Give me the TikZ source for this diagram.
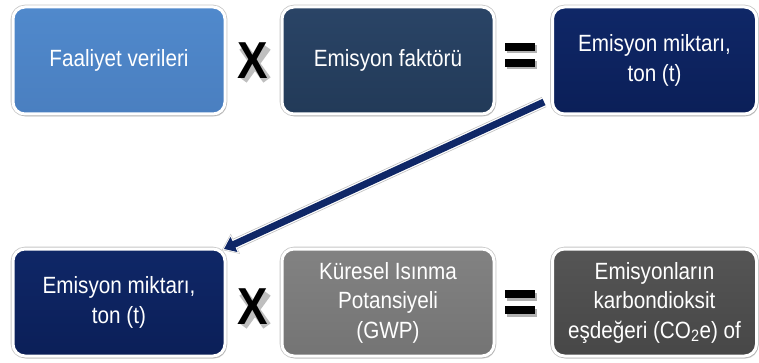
\documentclass[tikz,border=0pt]{standalone}
\usepackage{fontspec}
\setmainfont[FakeStretch=0.88]{Liberation Sans}
\usetikzlibrary{shadows,arrows.meta}
\definecolor{lightblue}{HTML}{5089CC}
\definecolor{lightblueB}{HTML}{4A7FC0}
\definecolor{slate}{HTML}{2A4466}
\definecolor{slateB}{HTML}{223A58}
\definecolor{navy}{HTML}{0F2767}
\definecolor{navyB}{HTML}{0B1F58}
\definecolor{midgray}{HTML}{828282}
\definecolor{midgrayB}{HTML}{747474}
\definecolor{darkgray}{HTML}{555555}
\definecolor{darkgrayB}{HTML}{474747}
\tikzset{
  box/.style={rounded corners=12pt, draw=white, line width=3pt,
    preaction={draw=black!22, line width=4.6pt},
    minimum width=212pt, minimum height=107pt, align=center,
    text=white, font=\fontsize{23.5}{29.5}\selectfont,
    drop shadow={opacity=0.3, shadow xshift=1.5pt, shadow yshift=-2.5pt}},
  opx/.style={font=\fontsize{52}{52}\selectfont\bfseries, inner sep=0pt},
  opshadow/.style={draw=black, opacity=0.25, line width=9pt},
  bar/.style={fill=black},
  barshadow/.style={fill=black, opacity=0.3},
}
\begin{document}
\begin{tikzpicture}[x=1pt,y=-1pt]
\useasboundingbox (0,0) rectangle (759,363);
% top row
\node[box, top color=lightblue, bottom color=lightblueB] (fa) at (119,60.5) {Faaliyet verileri};
\node[box, top color=slate, bottom color=slateB] (ef) at (388,60.5) {Emisyon faktörü};
\node[box, top color=navy, bottom color=navyB, minimum width=204pt] (em1) at (654.5,60.5) {Emisyon miktarı,\\ton (t)};
% bottom row
\node[box, top color=navy, bottom color=navyB] (em2) at (119,302.5) {Emisyon miktarı,\\ton (t)};
\node[box, top color=midgray, bottom color=midgrayB] (gwp) at (388,302.5) {Küresel Isınma\\Potansiyeli\\(GWP)};
\node[box, top color=darkgray, bottom color=darkgrayB, minimum width=204pt] (co2) at (654.5,302.5) {Emisyonların\\karbondioksit\\eşdeğeri (CO\textsubscript{2}e) of};
% soft shadows behind the multiplication signs
\draw[opshadow] (243,47) -- (267,80) (267,47) -- (243,80);
\draw[opshadow] (243,293) -- (267,326) (267,293) -- (243,326);
% multiplication signs
\node[opx, text=black] (x1) at (253,61) {X};
\node[opx, text=black] (x2) at (253,307) {X};
% equals signs
\path[barshadow] (507,45.5) rectangle (537,53.5);
\path[barshadow] (507,61.5) rectangle (537,69.5);
\path[bar] (505,43) rectangle (535,51);
\path[bar] (505,59) rectangle (535,67);
\path[barshadow] (507,292.5) rectangle (537,300.5);
\path[barshadow] (507,308.5) rectangle (537,316.5);
\path[bar] (505,290) rectangle (535,298);
\path[bar] (505,306) rectangle (535,314);
% connector from the first result down to the second row
\coordinate (as) at (544,102);
\coordinate (at) at (224,249);
\draw[black!25, line width=11pt, -{Triangle[length=15pt,width=21pt]}, shorten >=-2.5pt] (as) -- (at);
\draw[white, line width=9.5pt, -{Triangle[length=13.5pt,width=19pt]}, shorten >=-1.5pt] (as) -- (at);
\draw[navy, line width=7pt, -{Triangle[length=11pt,width=16pt]}] (as) -- (at);
\end{tikzpicture}
\end{document}
